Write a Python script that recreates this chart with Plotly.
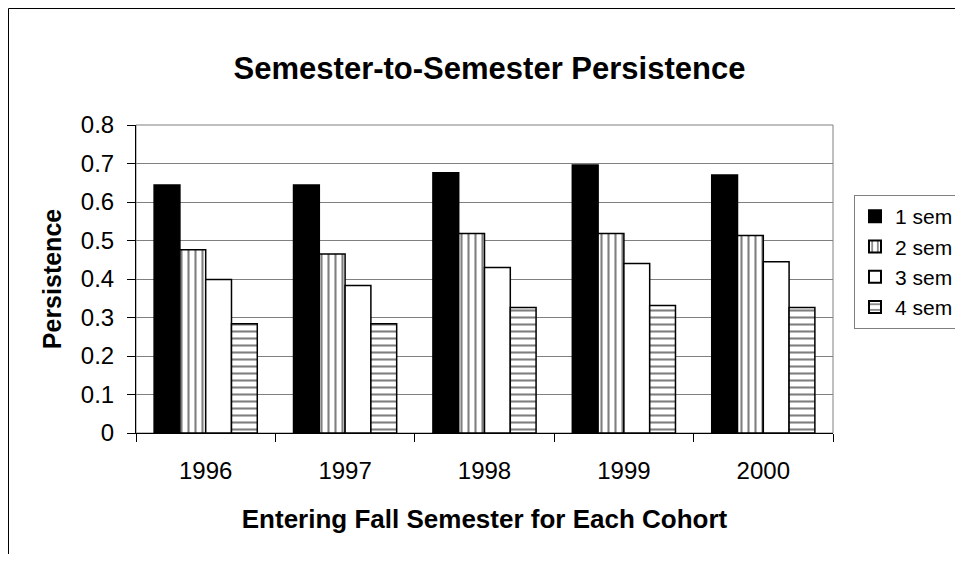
import plotly.graph_objects as go

cohorts = ["1996", "1997", "1998", "1999", "2000"]
sem1 = [0.644, 0.644, 0.676, 0.696, 0.670]
sem2 = [0.476, 0.465, 0.518, 0.518, 0.513]
sem3 = [0.399, 0.383, 0.430, 0.440, 0.445]
sem4 = [0.284, 0.284, 0.326, 0.331, 0.326]
series_names = ["1 sem", "2 sem", "3 sem", "4 sem"]

FONT = "Liberation Sans, Arial, sans-serif"
line = dict(color="black", width=1.5)

# page has an 8px body margin on every side: figure coords = page coords - 8
W, H = 947, 546
L, T, R, B = 128, 117, 122, 121
PW, PH = W - L - R, H - T - B

fig = go.Figure()
fig.add_trace(go.Bar(name=series_names[0], x=cohorts, y=sem1,
                     marker=dict(color="black", line=line)))
fig.add_trace(go.Bar(name=series_names[1], x=cohorts, y=sem2,
                     marker=dict(color="white", line=line,
                                 pattern=dict(shape="|", fgcolor="black", bgcolor="white",
                                              size=7, solidity=0.3))))
fig.add_trace(go.Bar(name=series_names[2], x=cohorts, y=sem3,
                     marker=dict(color="white", line=line)))
fig.add_trace(go.Bar(name=series_names[3], x=cohorts, y=sem4,
                     marker=dict(color="white", line=line,
                                 pattern=dict(shape="-", fgcolor="black", bgcolor="white",
                                              size=7, solidity=0.3))))

fx = lambda px: (px - L) / PW
fy = lambda py: (H - B - py) / PH

fig.update_layout(
    width=W, height=H,
    margin=dict(l=L, r=R, t=T, b=B, autoexpand=False),
    paper_bgcolor="white", plot_bgcolor="white",
    barmode="group", bargap=0.26, bargroupgap=0,
    font=dict(family=FONT, size=24, color="black"),
    title=dict(text="<b>Semester-to-Semester Persistence</b>", x=481.5 / W, xref="container",
               xanchor="center", y=1 - 60 / H, yref="container", yanchor="middle",
               font=dict(family=FONT, size=31, color="black")),
    legend=dict(x=fx(846), y=fy(187), xanchor="left", yanchor="top",
                bordercolor="#808080", borderwidth=1, bgcolor="white",
                font=dict(family=FONT, size=21), tracegroupgap=0, itemsizing="constant"),
    xaxis=dict(showline=True, linecolor="black", linewidth=1, ticks="outside",
               tickson="boundaries", ticklen=8, tickcolor="black",
               showgrid=False, mirror=False, ticklabelstandoff=16,
               title=dict(text="<b>Entering Fall Semester for Each Cohort</b>",
                          font=dict(size=26), standoff=27),
               tickfont=dict(size=24)),
    yaxis=dict(range=[0, 0.8], dtick=0.1, showline=True,
               linecolor="black", linewidth=1, ticks="outside", ticklen=8,
               tickcolor="black", showgrid=True, gridcolor="#808080", gridwidth=1,
               zeroline=False, ticklabelstandoff=8,
               title=dict(text="<b>Persistence</b>", font=dict(size=25), standoff=12),
               tickfont=dict(size=24)),
    shapes=[
        dict(type="rect", xref="paper", yref="paper", x0=0, x1=1, y0=0, y1=1,
             line=dict(color="#808080", width=1), layer="below"),
        dict(type="line", xref="paper", yref="paper",
             x0=fx(0.5), x1=fx(0.5), y0=fy(0.5), y1=-1,
             line=dict(color="black", width=1)),
        dict(type="line", xref="paper", yref="paper",
             x0=fx(0.5), x1=3, y0=fy(0.5), y1=fy(0.5),
             line=dict(color="black", width=1)),
    ],
)

fig.write_html("out.html")
